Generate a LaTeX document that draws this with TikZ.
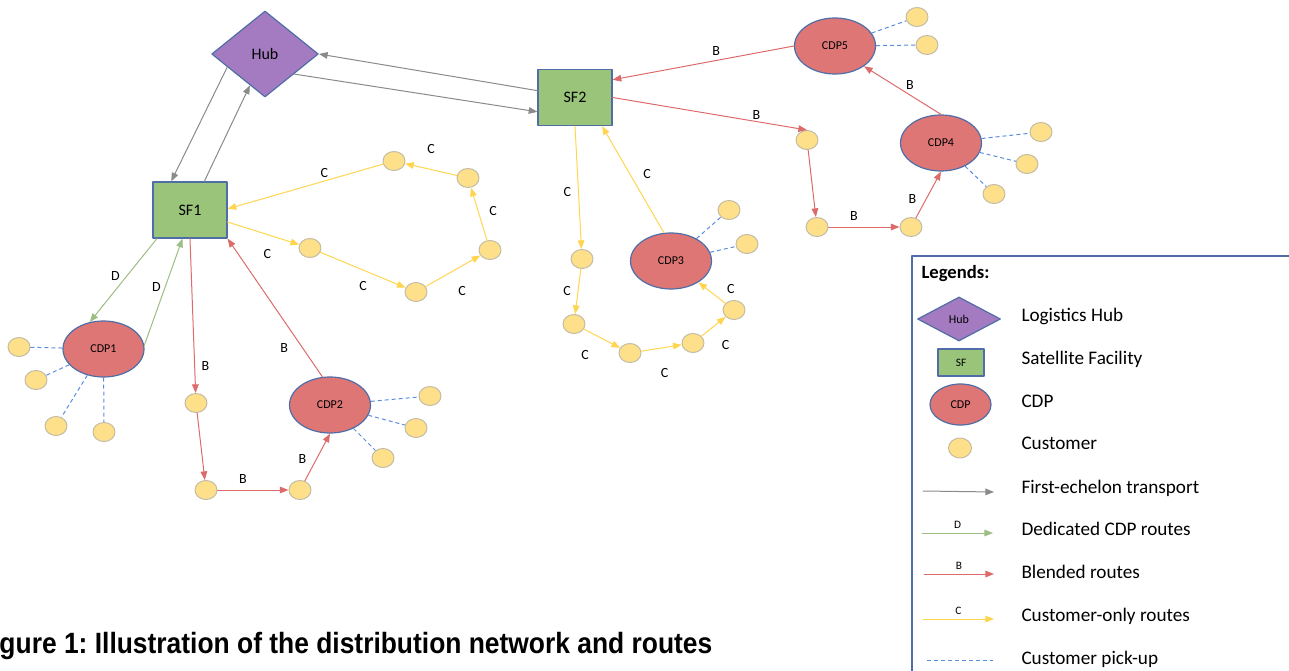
\documentclass[tikz,border=0pt]{standalone}
\usepackage{fontspec}
\setmainfont{Carlito}
\newfontfamily\capfont[FakeStretch=0.9]{Liberation Sans}
\usetikzlibrary{arrows.meta,calc,shapes.geometric}

\definecolor{hubfill}{HTML}{A47BC1}
\definecolor{sffill}{HTML}{9AC47A}
\definecolor{cdpfill}{HTML}{DF7676}
\definecolor{custfill}{HTML}{FFE08A}
\definecolor{nodeline}{HTML}{4F6DA6}
\definecolor{custline}{HTML}{C3BCA5}
\definecolor{firstgray}{HTML}{8A8A8A}
\definecolor{dedgreen}{HTML}{9DBD84}
\definecolor{blendred}{HTML}{DD6B6B}
\definecolor{conlyyellow}{HTML}{FFD54F}
\definecolor{pickupblue}{HTML}{5B8DDB}

\tikzset{
  hubnode/.style={diamond, draw=nodeline, fill=hubfill, line width=0.9pt, inner sep=0pt,
    minimum width=80pt, minimum height=64.5pt, font=\fontsize{12}{14}\selectfont},
  sfnode/.style={rectangle, draw=nodeline, fill=sffill, line width=0.9pt, inner sep=0pt,
    minimum width=55.5pt, minimum height=42pt, font=\fontsize{12}{14}\selectfont},
  cdpnode/.style={ellipse, draw=nodeline, fill=cdpfill, line width=0.9pt, inner sep=0pt,
    minimum width=60.75pt, minimum height=42pt, font=\fontsize{9}{10}\selectfont},
  cust/.style={ellipse, draw=custline, fill=custfill, line width=0.75pt, inner sep=0pt,
    minimum width=16.5pt, minimum height=14.25pt},
  lbl/.style={font=\fontsize{10.5}{12}\selectfont, inner sep=0pt},
  lglbl/.style={font=\fontsize{8.5}{10}\selectfont, inner sep=0pt, above=3pt},
  lgtext/.style={anchor=base west, inner sep=0pt, font=\fontsize{14.4}{17}\selectfont},
  tip/.style={-{Triangle[length=6.5pt,width=5pt]}},
  first/.style={draw=firstgray, tip},
  ded/.style={draw=dedgreen, tip},
  blend/.style={draw=blendred, tip},
  conly/.style={draw=conlyyellow, tip},
  pickup/.style={draw=pickupblue, dash pattern=on 3pt off 2.25pt, line cap=butt}
}

\begin{document}
\begin{tikzpicture}[line width=0.75pt, line cap=round, line join=round, x=0.75pt, y=-0.75pt]
  \useasboundingbox (0,0) rectangle (1289,671);

  % facilities
  \node[hubnode] (hub) at (265,54) {Hub};
  \node[sfnode] (sf1) at (190,210) {SF1};
  \node[sfnode] (sf2) at (575,97.5) {SF2};
  \node[cdpnode] (cdp1) at (103.5,349) {CDP1};
  \node[cdpnode] (cdp2) at (330,405) {CDP2};
  \node[cdpnode] (cdp3) at (671,261) {CDP3};
  \node[cdpnode] (cdp4) at (941,143) {CDP4};
  \node[cdpnode] (cdp5) at (835,46) {CDP5};

  % customers
  \foreach \n/\x/\y in {s1a/310/248, s1b/416/292, s1c/490/250, s1d/468/178, s1e/394/161,
      p1a/19/347, p1b/36/380, p1c/56/426, p1d/104/432,
      b1a/196/403, b1b/206/490, b1c/300/490,
      p2a/430/396, p2b/416/428, p2c/383/458,
      s2a/582/259, s2b/574/324, s2c/630/353, s2d/693/343, s2e/734/310,
      p3a/729/210, p3b/747/244,
      b2a/807/140, b2b/817/227, b2c/911/227,
      p4a/1041/132, p4b/1027/164, p4c/994/194,
      p5a/917/17, p5b/927/45}
    \node[cust] (\n) at (\x,\y) {};

  % customer pick-up
  \foreach \c/\k in {cdp1/p1a, cdp1/p1b, cdp1/p1c, cdp1/p1d, cdp2/p2a, cdp2/p2b, cdp2/p2c,
      cdp3/p3a, cdp3/p3b, cdp4/p4a, cdp4/p4b, cdp4/p4c, cdp5/p5a, cdp5/p5b}
    \draw[pickup] (\c) -- (\k);

  % first echelon
  \draw[first] ($(hub.west)!0.3!(hub.south)$) -- ($(sf1.north west)!0.25!(sf1.north east)$);
  \draw[first] ($(sf1.north west)!0.69!(sf1.north east)$) -- ($(hub.west)!0.72!(hub.south)$);
  \draw[first] ($(sf2.north west)!0.38!(sf2.south west)$) -- (hub.east);
  \draw[first] ($(hub.east)!0.46!(hub.south)$) -- ($(sf2.north west)!0.75!(sf2.south west)$);

  % SF1 routes
  \draw[ded] ($(sf1.south west)!0.06!(sf1.south east)$) -- node[lbl, xshift=-6pt, yshift=3pt] {D} (cdp1.117);
  \draw[ded] (cdp1.5) -- node[lbl, xshift=-5.25pt, yshift=3.75pt] {D} ($(sf1.south west)!0.4!(sf1.south east)$);
  \draw[conly] ($(sf1.north east)!0.71!(sf1.south east)$) -- node[lbl, xshift=3pt, yshift=-15.75pt] {C} (s1a);
  \draw[conly] (s1a) -- node[lbl, yshift=-12pt] {C} (s1b);
  \draw[conly] (s1b) -- node[lbl, xshift=6.75pt, yshift=-15pt] {C} (s1c);
  \draw[conly] (s1c) -- node[lbl, xshift=10.5pt, yshift=2.25pt] {C} (s1d);
  \draw[conly] (s1d) -- node[lbl, yshift=15pt] {C} (s1e);
  \draw[conly] (s1e) -- node[lbl, xshift=14.25pt, yshift=9.75pt] {C} ($(sf1.north east)!0.48!(sf1.south east)$);
  \draw[blend] (sf1.south) -- node[lbl, pos=0.8, xshift=8.25pt, yshift=-3pt] {B} (b1a);
  \draw[blend] (b1a) -- (b1b);
  \draw[blend] (b1b) -- node[lbl, xshift=-7.5pt, yshift=8.25pt] {B} (b1c);
  \draw[blend] (b1c) -- node[lbl, xshift=-11.25pt, yshift=-1.5pt] {B} (cdp2.south);
  \draw[blend] (cdp2.105) -- node[lbl, pos=0.25, xshift=-10.9pt, yshift=-4.1pt] {B} (sf1.south east);

  % SF2 routes
  \draw[conly] (sf2.south) -- node[lbl, xshift=-8.25pt, yshift=-3pt] {C} (s2a);
  \draw[conly] (s2a) -- node[lbl, xshift=-8.25pt] {C} (s2b);
  \draw[conly] (s2b) -- node[lbl, xshift=-12.75pt, yshift=-12.75pt] {C} (s2c);
  \draw[conly] (s2c) -- node[lbl, xshift=2.25pt, yshift=-18.75pt] {C} (s2d);
  \draw[conly] (s2d) -- node[lbl, xshift=9pt, yshift=-14.25pt] {C} (s2e);
  \draw[conly] (s2e) -- node[lbl, xshift=14.25pt, yshift=3pt] {C} (cdp3);
  \draw[conly] (cdp3.104) -- node[lbl, xshift=10.5pt, yshift=3.75pt] {C} ($(sf2.south west)!0.86!(sf2.south east)$);
  \draw[blend] (sf2.east) -- node[lbl, pos=0.75, xshift=-1.5pt, yshift=5.25pt] {B} (b2a.north);
  \draw[blend] (b2a) -- (b2b);
  \draw[blend] (b2b) -- node[lbl, xshift=-7.5pt, yshift=8.25pt] {B} (b2c);
  \draw[blend] (b2c) -- node[lbl, xshift=-12pt, yshift=-3pt] {B} (cdp4.south);
  \draw[blend] (cdp4.north) -- node[lbl, xshift=5.6pt, yshift=4.1pt] {B} (cdp5.-35);
  \draw[blend] (cdp5.west) -- node[lbl, xshift=9.75pt, yshift=9pt] {B} ($(sf2.north east)!0.19!(sf2.south east)$);

  % legend
  \draw[draw=nodeline, line width=0.9pt] (912,256) rectangle (1300,700);
  \node[anchor=base west, inner sep=0pt, font=\bfseries\fontsize{14}{16}\selectfont] (lgtitle) at (921,278) {Legends:};
  \node[hubnode, minimum width=62.25pt, minimum height=33pt, font=\fontsize{9}{10}\selectfont] (lghub) at (959,319) {Hub};
  \node[sfnode, minimum width=34.5pt, minimum height=20.25pt, font=\fontsize{8.5}{10}\selectfont] (lgsf) at (961,362.5) {SF};
  \node[cdpnode, minimum width=45.75pt, minimum height=30.75pt] (lgcdp) at (960.5,404.5) {CDP};
  \node[cust, minimum width=17.25pt, minimum height=15pt] (lgcust) at (960,448) {};
  \coordinate (lgfa) at (923,491);
  \coordinate (lgfb) at (994,492);
  \coordinate (lgda) at (922,533);
  \coordinate (lgdb) at (993,533);
  \coordinate (lgba) at (924,574);
  \coordinate (lgbb) at (994,574);
  \coordinate (lgca) at (923,619);
  \coordinate (lgcb) at (994,619);
  \coordinate (lgpa) at (927,660);
  \coordinate (lgpb) at (993,660);
  \draw[first] (lgfa) -- (lgfb);
  \draw[ded] (lgda) -- node[lglbl] {D} (lgdb);
  \draw[blend] (lgba) -- node[lglbl] {B} (lgbb);
  \draw[conly] (lgca) -- node[lglbl] {C} (lgcb);
  \draw[pickup] (lgpa) -- (lgpb);
  \foreach \n/\y/\t in {lt1/321/Logistics Hub, lt2/364/Satellite Facility, lt3/407/CDP,
      lt4/449/Customer, lt5/493/First-echelon transport, lt6/535/Dedicated CDP routes,
      lt7/578/Blended routes, lt8/621/Customer-only routes, lt9/664/Customer pick-up}
    \node[lgtext] (\n) at (1021,\y) {\t};

  % caption
  \node[anchor=base west, inner sep=0pt, font=\capfont\bfseries\frenchspacing\fontsize{22}{26}\selectfont] (caption) at (-1,653)
    {gure 1: Illustration of the distribution network and routes};
\end{tikzpicture}
\end{document}
